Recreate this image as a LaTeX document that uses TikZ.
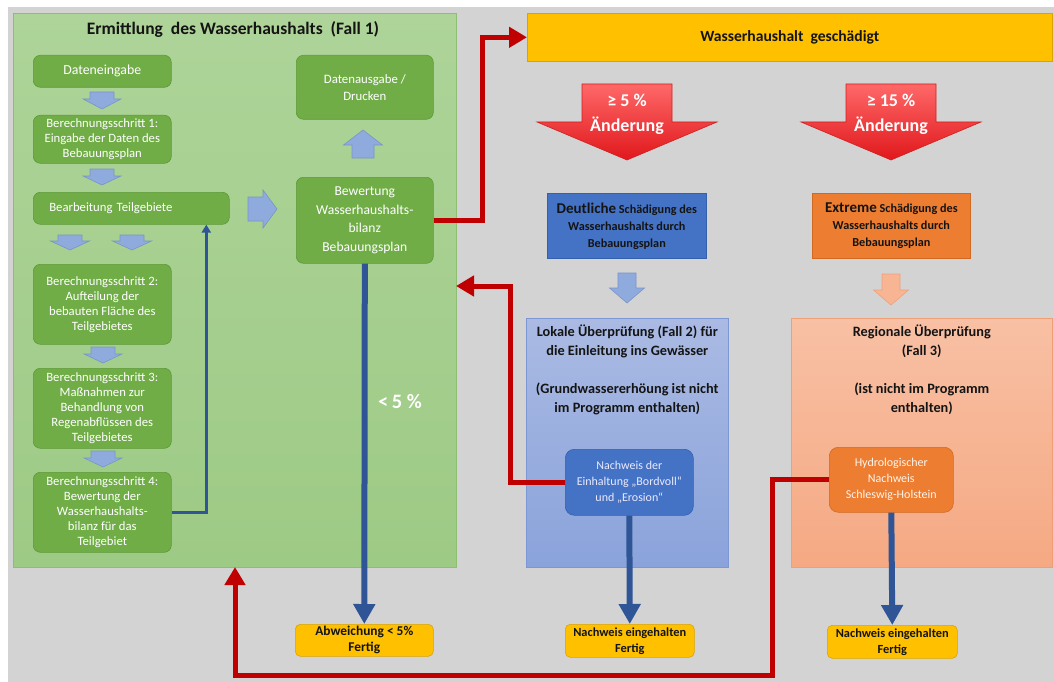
\documentclass[tikz,border=0pt]{standalone}
\usepackage{fontspec}
\setmainfont{Carlito}
\usetikzlibrary{arrows.meta,calc}
\definecolor{bgc}{HTML}{D3D3D3}
\definecolor{panT}{HTML}{AED499}
\definecolor{panB}{HTML}{9DCA85}
\definecolor{panD}{HTML}{8DBE72}
\definecolor{gfill}{HTML}{70AD47}
\definecolor{gdraw}{HTML}{5E9A38}
\definecolor{yfill}{HTML}{FFC000}
\definecolor{ydraw}{HTML}{D9A300}
\definecolor{bfill}{HTML}{4472C4}
\definecolor{bdraw}{HTML}{3560AE}
\definecolor{ofill}{HTML}{ED7D31}
\definecolor{odraw}{HTML}{D06A22}
\definecolor{lineb}{HTML}{2F5597}
\definecolor{liner}{HTML}{C00000}
\definecolor{lba}{HTML}{8FAADC}
\definecolor{lbb}{HTML}{7A94C8}
\definecolor{sala}{HTML}{F7B594}
\definecolor{salb}{HTML}{EFA07C}
\definecolor{lokT}{HTML}{AABAE3}
\definecolor{lokB}{HTML}{8AA3DB}
\definecolor{lokD}{HTML}{7C97D3}
\definecolor{regT}{HTML}{F8C0A4}
\definecolor{regB}{HTML}{F5A983}
\definecolor{regD}{HTML}{F09E76}
\definecolor{redT}{HTML}{FF6868}
\definecolor{redB}{HTML}{E0181C}
\definecolor{redD}{HTML}{D02020}
\definecolor{txt}{HTML}{141414}
\tikzset{
  pics/barrow/.style args={#1/#2/#3/#4}{code={
    \path[pic actions] ({-#2/2},0) -- ({#2/2},0) -- ({#2/2},{#3-#4}) -- ({#1/2},{#3-#4})
      -- (0,#3) -- ({-#1/2},{#3-#4}) -- ({-#2/2},{#3-#4}) -- cycle;
  }},
  lbarrow/.style={fill=lba, draw=lbb, line width=0.6pt},
  salarrow/.style={fill=sala, draw=salb, line width=0.6pt},
  gbox/.style={draw=gdraw, fill=gfill, line width=0.6pt, rounded corners=7pt, text=white,
    align=center, inner sep=0pt, anchor=north west, font=\fontsize{12.7}{15}\selectfont},
  gbigbox/.style={gbox, font=\fontsize{13.2}{18}\selectfont},
  ybox/.style={draw=ydraw, fill=yfill, line width=0.6pt, rounded corners=5pt, text=txt,
    align=center, inner sep=0pt, anchor=north west, font=\bfseries\fontsize{12.4}{16}\selectfont},
  bbox/.style={draw=bdraw, fill=bfill, line width=0.6pt, rounded corners=9pt, text=white!92!blue,
    align=center, inner sep=0pt, anchor=north west, font=\fontsize{12}{16}\selectfont},
  obox/.style={bbox, draw=odraw, fill=ofill, text=white!92!orange},
  sqbox/.style={line width=0.6pt, align=center, inner sep=0pt, anchor=north west, text=txt,
    font=\bfseries\fontsize{12.2}{17}\selectfont},
  bigtext/.style={anchor=north, align=center, inner sep=0pt, text=txt,
    font=\bfseries\fontsize{14.3}{19}\selectfont},
  thickb/.style={draw=lineb, line width=6pt, -{Triangle[width=21pt,length=20pt]}},
  thinb/.style={draw=lineb, line width=2.6pt, -{Triangle[width=9pt,length=8pt]}},
  redl/.style={draw=liner, line width=5pt, -{Triangle[width=20pt,length=18pt]}},
  redarrow/.style={top color=redT, bottom color=redB, draw=redD, line width=0.6pt},
  arrtext/.style={text=white, align=center, inner sep=0pt, font=\bfseries\fontsize{18}{25}\selectfont},
}
\begin{document}
\begin{tikzpicture}[x=1pt,y=-1pt]
\useasboundingbox (0,0) rectangle (1054,682);
\fill[white] (0,0) rectangle (1054,682);
\fill[bgc] (8,7) rectangle (1054,682);

% ---------- Fall 1 panel ----------
\node[anchor=north west, top color=panT, bottom color=panB, draw=panD, line width=0.6pt,
  minimum width=443pt, minimum height=554pt, inner sep=0pt] (fall1) at (13,13) {};
\node[font=\bfseries\fontsize{17.5}{20}\selectfont, text=txt] (tit) at (233,29)
  {Ermittlung\ \ des Wasserhaushalts\ \ (Fall 1)};

\node[gbox, minimum width=138pt, minimum height=32pt, font=\fontsize{13.8}{15}\selectfont] (dat) at (33,55) {Dateneingabe};
\node[gbox, minimum width=138pt, minimum height=48pt] (s1) at (33,115)
  {Berechnungsschritt 1:\\Eingabe der Daten des\\Bebauungsplan};
\node[gbox, text width=164pt, align=left, inner xsep=16pt, minimum height=32pt] (bear) at (33,192)
  {Bearbeitung Teilgebiete};
\node[gbox, minimum width=138pt, minimum height=80pt] (s2) at (33,264)
  {Berechnungsschritt 2:\\Aufteilung der\\bebauten Fläche des\\Teilgebietes};
\node[gbox, minimum width=138pt, minimum height=80pt] (s3) at (33,368)
  {Berechnungsschritt 3:\\Maßnahmen zur\\Behandlung von\\Regenabflüssen des\\Teilgebietes};
\node[gbox, minimum width=138pt, minimum height=80pt] (s4) at (33,472)
  {Berechnungsschritt 4:\\Bewertung der\\Wasserhaushalts-\\bilanz für das\\Teilgebiet};
\node[gbigbox, minimum width=137pt, minimum height=64pt, font=\fontsize{12.8}{17}\selectfont] (aus) at (296,55)
  {Datenausgabe /\\Drucken};
\node[gbigbox, minimum width=137pt, minimum height=86pt, font=\fontsize{13.6}{18.5}\selectfont] (bew) at (296,177)
  {Bewertung\\Wasserhaushalts-\\bilanz\\Bebauungsplan};

% light-blue block arrows
\pic[lbarrow] at (102,92) {barrow=38/24/17/10};
\pic[lbarrow] at (102,169) {barrow=38/24/16/9};
\pic[lbarrow] at (70,235) {barrow=39/24/15/9};
\pic[lbarrow] at (132,235) {barrow=39/24/15/9};
\pic[lbarrow] at (103,347) {barrow=38/24/16/9};
\pic[lbarrow] at (103,451) {barrow=38/24/16/9};
\pic[lbarrow, rotate=90] at (248,209) {barrow=38/24/29/14};
\pic[lbarrow, rotate=180] at (363,158) {barrow=39/22/28/15};

\node[text=white, font=\bfseries\fontsize{20.5}{22}\selectfont, inner sep=0pt] (lt5) at (400,402) {<\,5 \%};

\node[ybox, minimum width=138pt, minimum height=32pt, font=\bfseries\fontsize{13.4}{16}\selectfont] (abw) at (295,624)
  {Abweichung < 5\%\\Fertig};

% ---------- right part ----------
\node[anchor=north west, fill=yfill, draw=ydraw, line width=0.6pt, minimum width=525pt,
  minimum height=48pt, inner sep=0pt, text=txt, font=\bfseries\fontsize{15.6}{18}\selectfont]
  (wg) at (527,13) {Wasserhaushalt\ \ geschädigt};

\path[redarrow] (582,84) -- (672,84) -- (672,122) -- (717,122) -- (627,160) -- (537,122) -- (582,122) -- cycle;
\node[arrtext] (a5) at (627,114) {≥ 5 \%\\Änderung};
\path[redarrow] (846,84) -- (936,84) -- (936,122) -- (981,122) -- (891,160) -- (801,122) -- (846,122) -- cycle;
\node[arrtext] (a15) at (891,114) {≥ 15 \%\\Änderung};

\node[sqbox, fill=bfill, draw=bdraw, minimum width=159pt, minimum height=65pt] (deut) at (547,193)
  {{\fontsize{15}{17}\selectfont Deutliche} Schädigung des\\Wasserhaushalts durch\\Bebauungsplan};
\node[sqbox, fill=ofill, draw=odraw, minimum width=158pt, minimum height=65pt] (extr) at (812,193)
  {{\fontsize{15}{17}\selectfont Extreme} Schädigung des\\Wasserhaushalts durch\\Bebauungsplan};

\pic[lbarrow] at (627,273) {barrow=35/18/30/15};
\pic[salarrow] at (891,274) {barrow=35/18/31/15};

\node[anchor=north west, top color=lokT, bottom color=lokB, draw=lokD, line width=0.6pt,
  minimum width=202pt, minimum height=249pt, inner sep=0pt] (lok) at (526,318) {};
\node[bigtext] (lokt) at ($(lok.north)+(0,7)$)
  {Lokale Überprüfung (Fall 2) für\\die Einleitung ins Gewässer\\[19pt](Grundwassererhöung ist nicht\\im Programm enthalten)};
\node[anchor=north west, top color=regT, bottom color=regB, draw=regD, line width=0.6pt,
  minimum width=261pt, minimum height=249pt, inner sep=0pt] (reg) at (791,318) {};
\node[bigtext] (regt) at ($(reg.north)+(0,7)$)
  {Regionale Überprüfung\\(Fall 3)\\[19pt](ist nicht im Programm\\enthalten)};

\node[bbox, minimum width=128pt, minimum height=66pt] (nach) at (565,449)
  {Nachweis der\\Einhaltung „Bordvoll“\\und „Erosion“};
\node[obox, minimum width=124pt, minimum height=65pt] (hyd) at (829,447)
  {Hydrologischer\\Nachweis\\Schleswig-Holstein};

\node[ybox, minimum width=129pt, minimum height=33pt] (ne1) at (565,624)
  {Nachweis eingehalten\\Fertig};
\node[ybox, minimum width=130pt, minimum height=33pt] (ne2) at (827,625)
  {Nachweis eingehalten\\Fertig};

% ---------- connectors ----------
\coordinate (ret1) at (456,286);
\coordinate (ret2) at (235,567);
\draw[thinb] (s4.east) -| ([xshift=75pt]bear.south);
\draw[redl] (bew.east) -| ($(wg.west)+(-45,0)$) -- (wg.west);
\draw[thickb] (bew.south) -- (abw.north);
\draw[redl] (nach.west) -| ($(ret1)+(54,0)$) -- (ret1);
\draw[thickb] (nach.south) -- (ne1.north);
\draw[redl] (hyd.west) -| ($(ret2)+(537,108)$) -| (ret2);
\draw[thickb] (hyd.south) -- (ne2.north);
\end{tikzpicture}
\end{document}
